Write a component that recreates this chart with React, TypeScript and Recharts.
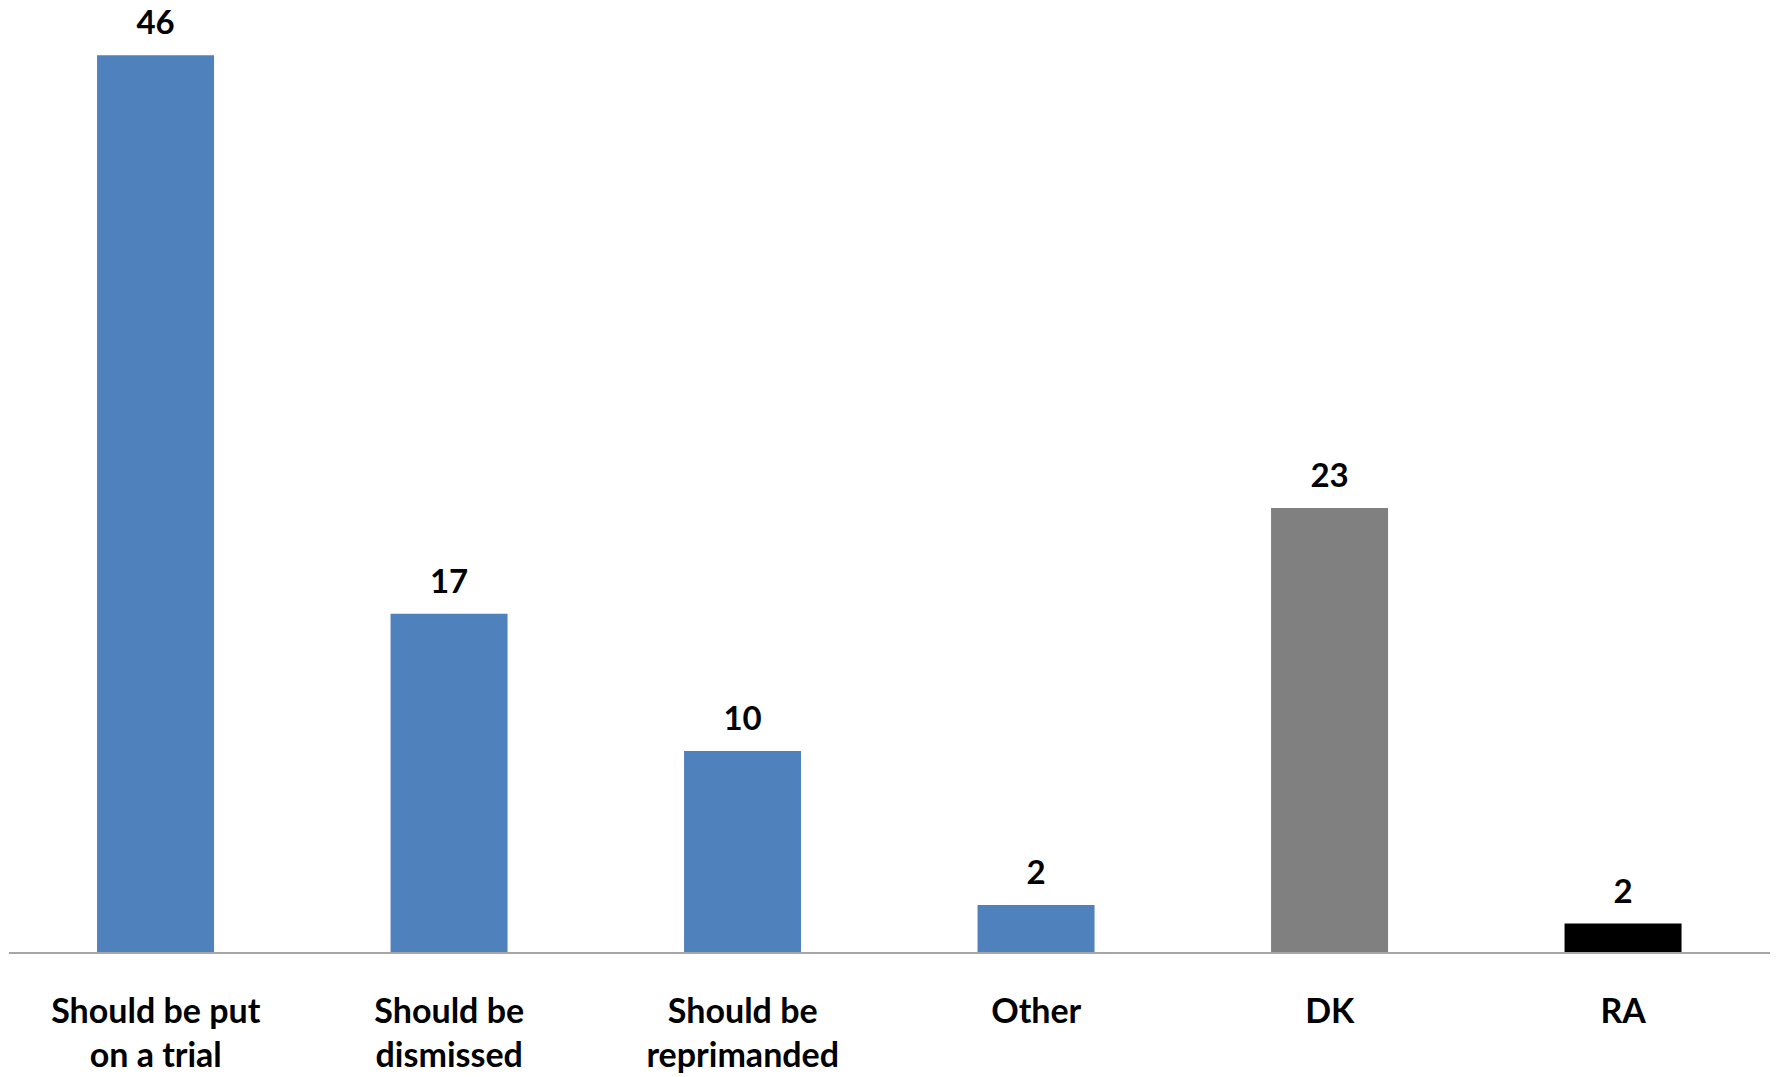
import { BarChart, Bar, XAxis, YAxis, Cell, LabelList } from "recharts";

const categories = [
  "Should be put on a trial",
  "Should be dismissed",
  "Should be reprimanded",
  "Other",
  "DK",
  "RA",
];
const values = [45.8, 17.3, 10.3, 2.45, 22.7, 1.5];
const tickLines = [
  ["Should be put", "on a trial"],
  ["Should be", "dismissed"],
  ["Should be", "reprimanded"],
  ["Other"],
  ["DK"],
  ["RA"],
];

const BAR_COLORS = ["#4F81BD", "#4F81BD", "#4F81BD", "#4F81BD", "#808080", "#000000"];
const FONT = "Lato, 'Liberation Sans', sans-serif";

const data = categories.map((name, i) => ({ name, value: values[i], idx: i }));

function CategoryTick(props: any) {
  const { x, y, payload } = props;
  const lines = tickLines[payload.index] ?? [payload.value];
  return (
    <text
      x={x}
      y={y + 62}
      textAnchor="middle"
      fontFamily={FONT}
      fontWeight={700}
      fontSize={34}
      fill="#000"
    >
      {lines.map((l, i) => (
        <tspan key={i} x={x} dy={i === 0 ? 0 : 44}>
          {l}
        </tspan>
      ))}
    </text>
  );
}

function ValueLabel(props: any) {
  const { x, y, width, value } = props;
  return (
    <text
      x={x + width / 2}
      y={y - 21}
      textAnchor="middle"
      fontFamily={FONT}
      fontWeight={700}
      fontSize={33}
      fill="#000"
    >
      {Math.round(value)}
    </text>
  );
}

export default function App() {
  return (
    <div style={{ position: "absolute", left: 0, top: 0, background: "#fff" }}>
      <BarChart
        width={1781}
        height={1077}
        data={data}
        margin={{ top: 12, right: 11, bottom: 0, left: 9 }}
        barCategoryGap="30%"
      >
        <XAxis
          dataKey="name"
          axisLine={{ stroke: "#A6A6A6", strokeWidth: 2 }}
          tickLine={false}
          interval={0}
          height={124}
          tick={<CategoryTick />}
        />
        <YAxis hide domain={[0, 48]} />
        <Bar dataKey="value" isAnimationActive={false}>
          {data.map((d) => (
            <Cell key={d.idx} fill={BAR_COLORS[d.idx]} />
          ))}
          <LabelList dataKey="value" content={<ValueLabel />} />
        </Bar>
      </BarChart>
    </div>
  );
}
